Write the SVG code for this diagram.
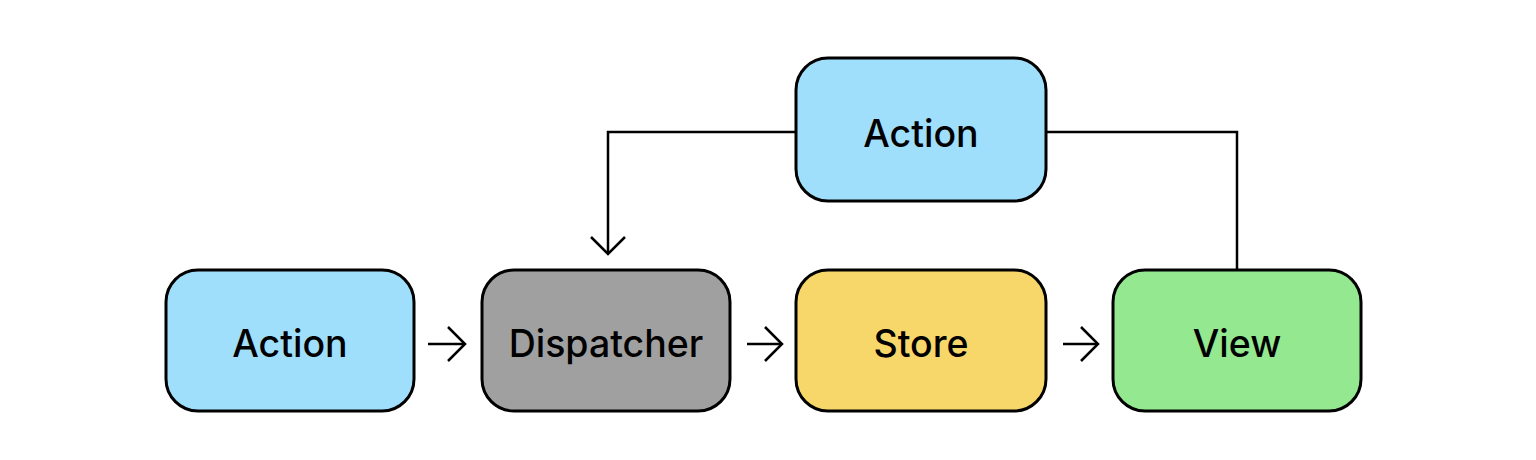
<svg xmlns="http://www.w3.org/2000/svg" width="1536" height="460" viewBox="0 0 1536 460">
<style>
.box{stroke:#000;stroke-width:3}
.lbl{font-family:Inter,"Noto Sans",sans-serif;font-size:37.5px;font-weight:500;fill:#000;text-anchor:middle}
.con{fill:none;stroke:#000;stroke-width:2.5}
</style>
<defs>
<marker id="arr" viewBox="-20 -20 24 40" markerWidth="24" markerHeight="40" refX="0" refY="0" orient="auto" markerUnits="userSpaceOnUse">
<path d="M-17,-17 L0,0 L-17,17" fill="none" stroke="#000" stroke-width="2.5"/>
</marker>
</defs>
<rect width="1536" height="460" fill="#fff"/>
<g id="connectors">
<path class="con" d="M796,132 H608 V254" marker-end="url(#arr)"/>
<path class="con" d="M1046,132 H1237 V269"/>
<path class="con" d="M428,344 H465" marker-end="url(#arr)"/>
<path class="con" d="M747,344 H782" marker-end="url(#arr)"/>
<path class="con" d="M1063,344 H1098" marker-end="url(#arr)"/>
</g>
<g id="action-top">
<rect class="box" x="796" y="58" width="250" height="143" rx="32" fill="#A0DFFB"/>
<text class="lbl" x="921" y="147">Action</text>
</g>
<g id="action">
<rect class="box" x="166" y="270" width="248" height="141" rx="32" fill="#A0DFFB"/>
<text class="lbl" x="290" y="357">Action</text>
</g>
<g id="dispatcher">
<rect class="box" x="482" y="270" width="248" height="141" rx="32" fill="#A0A0A0"/>
<text class="lbl" x="606" y="357">Dispatcher</text>
</g>
<g id="store">
<rect class="box" x="796" y="270" width="250" height="141" rx="32" fill="#F7D76A"/>
<text class="lbl" x="921" y="357">Store</text>
</g>
<g id="view">
<rect class="box" x="1113" y="270" width="248" height="141" rx="32" fill="#93E890"/>
<text class="lbl" x="1237" y="357">View</text>
</g>
</svg>
